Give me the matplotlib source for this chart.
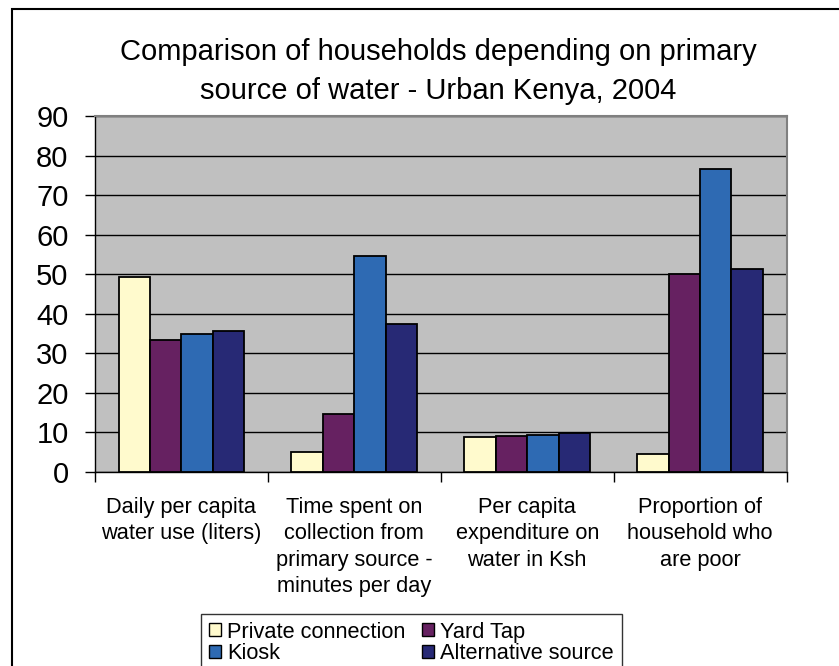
import matplotlib
matplotlib.use("Agg")
import matplotlib.pyplot as plt
from matplotlib.patches import Rectangle, Patch
import numpy as np

plt.rcParams['font.family'] = ['Liberation Sans', 'DejaVu Sans']

categories = [
    "Daily per capita\nwater use (liters)",
    "Time spent on\ncollection from\nprimary source -\nminutes per day",
    "Per capita\nexpenditure on\nwater in Ksh",
    "Proportion of\nhousehold who\nare poor",
]
series_names = ["Private connection", "Yard Tap", "Kiosk", "Alternative source"]
private_connection = [49.2, 5.1, 8.9, 4.5]
yard_tap = [33.3, 14.5, 9.0, 49.9]
kiosk = [34.9, 54.6, 9.3, 76.6]
alternative_source = [35.7, 37.4, 9.9, 51.3]
y_ticks = [0, 10, 20, 30, 40, 50, 60, 70, 80, 90]
title_lines = ["Comparison of households depending on primary",
               "source of water - Urban Kenya, 2004"]

series_values = [private_connection, yard_tap, kiosk, alternative_source]
colors = ["#FFFACD", "#662161", "#2E6AB3", "#272975"]

W, H = 839, 666
fig = plt.figure(figsize=(W / 100, H / 100), dpi=100)
fig.patch.set_facecolor("white")

# plot area in pixel coordinates
left, right, top, bottom = 95, 786.5, 116, 471.7
ax = fig.add_axes([left / W, 1 - bottom / H, (right - left) / W, (bottom - top) / H])
ax.set_facecolor("#C0C0C0")

n = len(series_values)
bw = 1 / 5.5
x = np.arange(len(categories))
for k, (vals, col) in enumerate(zip(series_values, colors)):
    ax.bar(x + (k - (n - 1) / 2) * bw, vals, width=bw, color=col,
           edgecolor="black", linewidth=1.3, zorder=3)

ax.set_xlim(-0.5, len(categories) - 0.5)
ax.set_ylim(0, 90)
ax.set_yticks(y_ticks)
ax.set_yticklabels([str(v) for v in y_ticks], fontsize=21)
ax.yaxis.grid(True, color="black", linewidth=1.0, zorder=1)
ax.set_axisbelow(True)
ax.tick_params(axis="y", direction="out", length=7, width=1, pad=12, colors="black")

# category boundary ticks and centred labels
ax.set_xticks(np.arange(-0.5, len(categories), 1.0))
ax.set_xticklabels([])
ax.tick_params(axis="x", which="major", direction="out", length=7, width=1)
ax.set_xticks(x, minor=True)
ax.set_xticklabels(categories, minor=True, fontsize=15.7, linespacing=1.34)
ax.tick_params(axis="x", which="minor", length=0, pad=18)

for side in ("top", "right"):
    ax.spines[side].set_color("#808080")
    ax.spines[side].set_linewidth(1.5)
for side in ("left", "bottom"):
    ax.spines[side].set_color("black")
    ax.spines[side].set_linewidth(1.0)

# chart title
fig.text(438 / W, 1 - 60 / H, title_lines[0], ha="center", va="baseline", fontsize=21)
fig.text(438 / W, 1 - 99 / H, title_lines[1], ha="center", va="baseline", fontsize=21)

# legend: two columns, filled row by row
order = [0, 2, 1, 3]
handles = [Patch(facecolor=colors[i], edgecolor="black", linewidth=1) for i in order]
labels = [series_names[i] for i in order]
leg = fig.legend(handles, labels, ncol=2, loc="upper left",
                 bbox_to_anchor=(201 / W, 1 - 614 / H), fontsize=15.7,
                 frameon=True, fancybox=False, handlelength=0.55, handleheight=0.55,
                 handletextpad=0.3, columnspacing=0.75, labelspacing=0.02,
                 borderpad=0.35, borderaxespad=0)
leg.get_frame().set_edgecolor("black")
leg.get_frame().set_linewidth(1.0)

# chart border
fig.patches.append(Rectangle((12 / W, -0.1), 1.2, 1 - 9 / H + 0.1, transform=fig.transFigure,
                             fill=False, edgecolor="black", linewidth=1.5))

fig.savefig("out.png", dpi=100, facecolor="white")
